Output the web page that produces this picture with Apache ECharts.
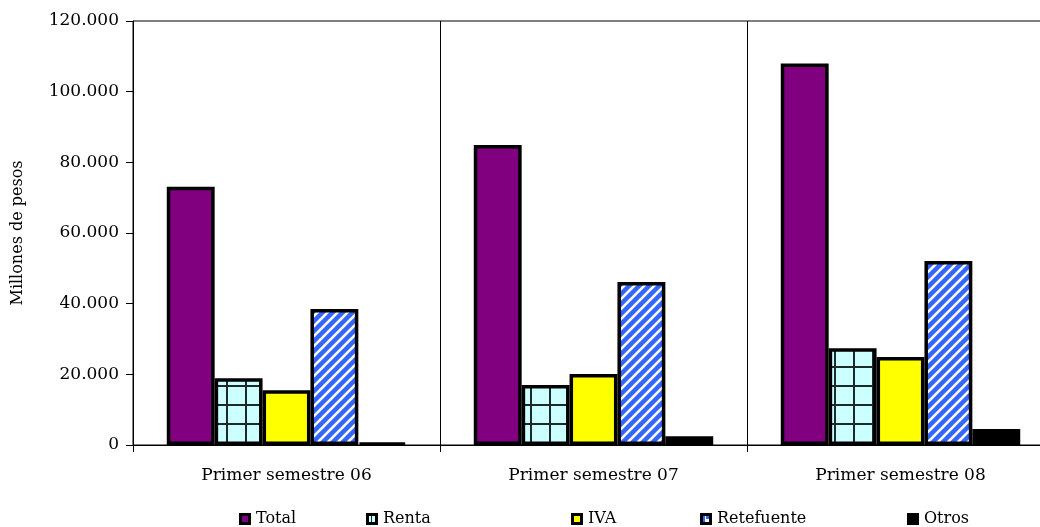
<!DOCTYPE html>
<html>
<head>
<meta charset="utf-8">
<script src="https://cdn.jsdelivr.net/npm/echarts@6/dist/echarts.min.js"></script>
<style>
html,body{margin:0;padding:0;background:#fff;}
#chart{width:1040px;height:527px;}
</style>
</head>
<body>
<div id="chart"></div>
<script>
const categories = ['Primer semestre 06', 'Primer semestre 07', 'Primer semestre 08'];
const totalValues = [73100, 84900, 108000];
const rentaValues = [18900, 17000, 27400];
const ivaValues = [15500, 20100, 24900];
const retefuenteValues = [38500, 46100, 52100];
const otrosValues = [600, 2500, 4500];
const yTicks = [0, 20000, 40000, 60000, 80000, 100000, 120000];

function gridPattern() {
  const c = document.createElement('canvas');
  c.width = 19; c.height = 19;
  const g = c.getContext('2d');
  g.fillStyle = '#CCFFFF';
  g.fillRect(0, 0, 19, 19);
  g.fillStyle = '#1c2a2a';
  g.fillRect(0, 5, 19, 2);
  g.fillRect(17, 0, 2, 19);
  return c;
}
function stripePattern() {
  const s = 10;
  const c = document.createElement('canvas');
  c.width = s; c.height = s;
  const g = c.getContext('2d');
  g.fillStyle = '#3366FF';
  g.fillRect(0, 0, s, s);
  g.strokeStyle = '#ffffff';
  g.lineWidth = 2.6;
  g.lineCap = 'square';
  [-s, 0, s].forEach((ox) => {
    g.beginPath();
    g.moveTo(ox, s);
    g.lineTo(ox + s, 0);
    g.stroke();
  });
  return c;
}
function legendIcon(kind) {
  const c = document.createElement('canvas');
  c.width = 12; c.height = 12;
  const g = c.getContext('2d');
  g.fillStyle = '#000';
  g.fillRect(0, 0, 12, 12);
  if (kind === 'Total') { g.fillStyle = '#800080'; g.fillRect(3, 3, 6, 6); }
  else if (kind === 'Renta') { g.fillStyle = '#CCFFFF'; g.fillRect(3, 3, 6, 6); g.fillStyle = '#1c2a2a'; g.fillRect(5, 3, 1, 6); }
  else if (kind === 'IVA') { g.fillStyle = '#FFFF00'; g.fillRect(3, 3, 6, 6); }
  else if (kind === 'Retefuente') { g.fillStyle = '#ffffff'; g.fillRect(3, 3, 6, 6); g.fillStyle = '#3366FF'; g.fillRect(3, 3, 2, 6); g.fillRect(6, 3, 3, 3); }
  return 'image://' + c.toDataURL();
}

const font = 'DejaVu Serif';
const chart = echarts.init(document.getElementById('chart'), null, {renderer: 'canvas'});

function bar(name, data, color) {
  return {
    name: name, type: 'bar', data: data,
    barGap: '0%', barCategoryGap: '22%',
    itemStyle: {color: color, borderColor: '#000', borderWidth: 3.5},
    emphasis: {disabled: true},
    animation: false
  };
}

const legendLefts = [239, 366, 571, 700, 907];
const names = ['Total', 'Renta', 'IVA', 'Retefuente', 'Otros'];

chart.setOption({
  backgroundColor: '#fff',
  animation: false,
  textStyle: {fontFamily: font, color: '#000'},
  grid: {left: 133, top: 21, width: 921, height: 424, outerBoundsMode: 'none', containLabel: false,
    show: true, borderColor: '#000', borderWidth: 1, backgroundColor: 'transparent'},
  legend: names.map((n, i) => ({
    data: [{name: n, icon: legendIcon(n)}], left: legendLefts[i], top: 511,
    itemWidth: 12, itemHeight: 12, itemGap: 0,
    textStyle: {fontFamily: font, fontSize: 16, color: '#000', padding: [0, 0, 0, 0]},
    padding: 0, selectedMode: false
  })),
  xAxis: {
    type: 'category', data: categories,
    axisLine: {lineStyle: {color: '#000', width: 1}},
    axisTick: {show: true, length: 7, lineStyle: {color: '#000'}},
    axisLabel: {fontFamily: font, fontSize: 17, color: '#000', margin: 22},
    splitLine: {show: true, lineStyle: {color: '#000', width: 1}}
  },
  yAxis: {
    type: 'value', min: yTicks[0], max: yTicks[yTicks.length - 1], interval: yTicks[1] - yTicks[0],
    name: 'Millones de pesos', nameLocation: 'middle', nameRotate: 90, nameGap: 107,
    nameTextStyle: {fontFamily: font, fontSize: 16, color: '#000'},
    axisLine: {show: true, lineStyle: {color: '#000', width: 1}},
    axisTick: {show: true, length: 7, lineStyle: {color: '#000'}},
    axisLabel: {fontFamily: font, fontSize: 17, color: '#000', margin: 14,
      formatter: v => v === 0 ? '0' : (v / 1000) + '.000'},
    splitLine: {show: false}
  },
  series: [
    bar('Total', totalValues, '#800080'),
    bar('Renta', rentaValues, {image: gridPattern(), repeat: 'repeat'}),
    bar('IVA', ivaValues, '#FFFF00'),
    bar('Retefuente', retefuenteValues, {image: stripePattern(), repeat: 'repeat'}),
    bar('Otros', otrosValues, '#000000')
  ]
});
</script>
</body>
</html>
